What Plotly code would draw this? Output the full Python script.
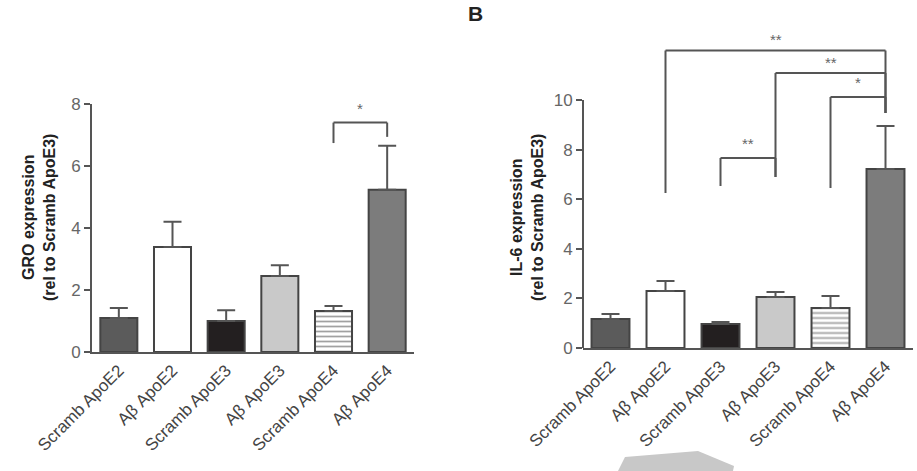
import plotly.graph_objects as go

categories = ["Scramb ApoE2", "Aβ ApoE2", "Scramb ApoE3", "Aβ ApoE3", "Scramb ApoE4", "Aβ ApoE4"]

gro_values = [1.1, 3.39, 1.0, 2.45, 1.32, 5.23]
gro_err = [0.32, 0.81, 0.35, 0.35, 0.16, 1.42]

il6_values = [1.17, 2.3, 0.97, 2.06, 1.61, 7.22]
il6_err = [0.2, 0.4, 0.08, 0.2, 0.49, 1.73]

gro_ticks = [0, 2, 4, 6, 8]
il6_ticks = [0, 2, 4, 6, 8, 10]

# significance brackets: (left cat, right cat, level, left leg bottom, right leg bottom, label, label level)
gro_brackets = [(4, 5, 7.4, 6.74, 6.94, "*", 7.84)]
il6_brackets = [
    (1, 5, 12.0, 6.25, 9.48, "**", 12.45),
    (3, 5, 11.09, 6.9, 9.48, "**", 11.53),
    (4, 5, 10.12, 6.45, 9.48, "*", 10.69),
    (2, 3, 7.66, 6.53, 6.9, "**", 8.23),
]

bar_colors = ["#5b5b5b", "#ffffff", "#231f20", "#c9c9c9", "#ffffff", "#7c7c7c"]
patterns = ["", "", "", "", "-", ""]

W, H = 917, 471
fig = go.Figure()

def add_bars(vals, errs, xa, ya):
    fig.add_trace(go.Bar(
        x=categories, y=vals, xaxis=xa, yaxis=ya,
        marker=dict(color=bar_colors, line=dict(color="#444444", width=2),
                    pattern=dict(shape=patterns, fgcolor="#666666", bgcolor="#ffffff",
                                 size=5, solidity=0.35)),
        error_y=dict(type="data", array=errs, arrayminus=[0]*len(errs), symmetric=False,
                     color="#555555", thickness=2, width=9),
        showlegend=False,
    ))

add_bars(gro_values, gro_err, "x", "y")
add_bars(il6_values, il6_err, "x2", "y2")

shapes = []
annotations = []
line_style = dict(color="#555555", width=2)

def add_brackets(brs, xref, yref):
    for (a, b, lvl, lb, rb, lab, laby) in brs:
        shapes.append(dict(type="line", xref=xref, yref=yref, x0=a, x1=b, y0=lvl, y1=lvl, line=line_style))
        shapes.append(dict(type="line", xref=xref, yref=yref, x0=a, x1=a, y0=lb, y1=lvl, line=line_style))
        shapes.append(dict(type="line", xref=xref, yref=yref, x0=b, x1=b, y0=rb, y1=lvl, line=line_style))
        annotations.append(dict(xref=xref, yref=yref, x=(a + b) / 2, y=laby, text=lab, showarrow=False,
                                font=dict(family="Arial", size=15, color="#666666"), yanchor="middle"))

add_brackets(gro_brackets, "x", "y")
add_brackets(il6_brackets, "x2", "y2")

# right y-axis line only up to 10
x2_dom0 = 583 / W
shapes.append(dict(type="line", xref="paper", yref="y2", x0=x2_dom0, x1=x2_dom0, y0=0, y1=10,
                   line=dict(color="#555555", width=2)))

# watermark-like grey band
shapes.append(dict(type="path", xref="paper", yref="paper", layer="above",
                   path="M %f,%f L %f,%f L %f,%f L %f,%f L %f,%f Z" % (
                       618 / W, 1 - 471 / H, 625 / W, 1 - 457 / H, 698 / W, 1 - 451 / H,
                       734 / W, 1 - 466 / H, 733 / W, 1 - 471 / H),
                   fillcolor="#c8c8c8", line=dict(width=0)))

title_font = dict(family="Arial", size=16, color="#222222")
annotations.append(dict(xref="paper", yref="paper", x=39 / W, y=1 - 218 / H, textangle=-90,
                        text="<b>GRO expression<br>(rel to Scramb ApoE3)</b>", showarrow=False,
                        font=title_font, xanchor="center", yanchor="middle"))
annotations.append(dict(xref="paper", yref="paper", x=527 / W, y=1 - 218 / H, textangle=-90,
                        text="<b>IL-6 expression<br>(rel to Scramb ApoE3)</b>", showarrow=False,
                        font=title_font, xanchor="center", yanchor="middle"))
annotations.append(dict(xref="paper", yref="paper", x=475 / W, y=1 - 14 / H, text="<b>B</b>",
                        showarrow=False, font=dict(family="Arial", size=21, color="#222222"),
                        xanchor="center", yanchor="middle"))

tickfont_x = dict(family="Arial", size=17, color="#444444")
tickfont_y = dict(family="Arial", size=17, color="#666666")

fig.update_layout(
    width=W, height=H, margin=dict(l=0, r=0, t=0, b=0),
    paper_bgcolor="white", plot_bgcolor="white",
    bargap=0.31,
    shapes=shapes, annotations=annotations,
    xaxis=dict(domain=[92 / W, 414 / W], range=[-0.5, 5.5], showline=True, linecolor="#555555",
               linewidth=2, tickangle=-45, tickfont=tickfont_x, ticks="", showgrid=False,
               anchor="y", zeroline=False, automargin=False),
    yaxis=dict(domain=[1 - 352 / H, 1 - 104 / H], range=[0, 8], showline=True, linecolor="#555555",
               linewidth=2, tickvals=gro_ticks, ticks="outside", ticklen=6, tickcolor="#555555",
               tickwidth=1.5, tickfont=tickfont_y, showgrid=False, zeroline=False, anchor="x",
               automargin=False),
    xaxis2=dict(domain=[583 / W, 913 / W], range=[-0.5, 5.5], showline=True, linecolor="#555555",
                linewidth=2, tickangle=-45, tickfont=tickfont_x, ticks="", showgrid=False,
                anchor="y2", zeroline=False, automargin=False),
    yaxis2=dict(domain=[1 - 348 / H, 1 - (348 - 12.6 * 24.8) / H], range=[0, 12.6], showline=False,
                tickvals=il6_ticks, ticks="outside", ticklen=6, tickcolor="#555555",
                tickwidth=1.5, tickfont=tickfont_y, showgrid=False, zeroline=False, anchor="x2",
                automargin=False),
)

fig.write_html("out.html")
